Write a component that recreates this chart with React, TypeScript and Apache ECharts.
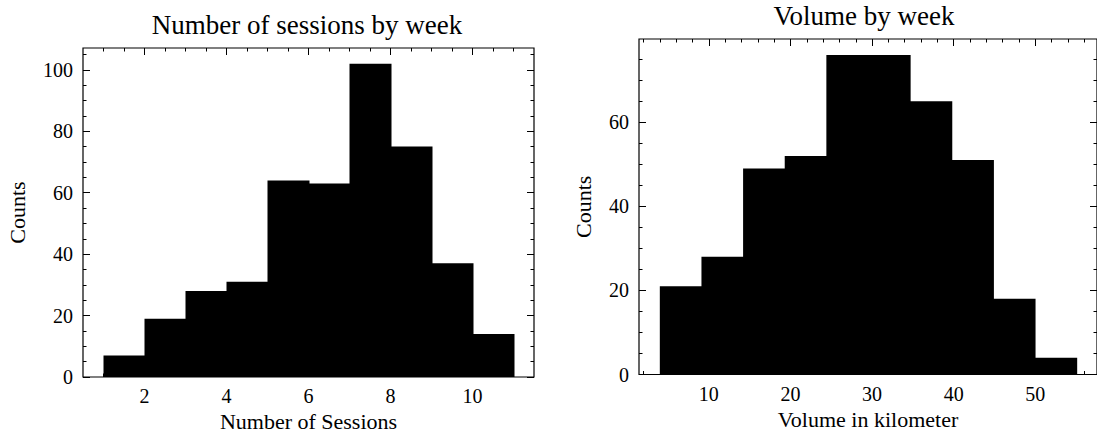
import React, { useEffect, useRef } from "react";
import * as echarts from "echarts";

// ---- data ----
const sessionEdges = [1, 2, 3, 4, 5, 6, 7, 8, 9, 10, 11];
const sessionCounts = [7, 19, 28, 31, 64, 63, 102, 75, 37, 14];

const volumeEdges = [4.0, 9.1, 14.2, 19.3, 24.4, 29.5, 34.6, 39.7, 44.8, 49.9, 55.0];
const volumeCounts = [21, 28, 49, 52, 76, 76, 65, 51, 18, 4];

// ---- ticks ----
const sessionMajorX = [2, 4, 6, 8, 10];
const sessionMinorX = [1, 1.5, 2.5, 3, 3.5, 4.5, 5, 5.5, 6.5, 7, 7.5, 8.5, 9, 9.5, 10.5, 11];
const sessionMajorY = [0, 20, 40, 60, 80, 100];
const sessionMinorY = [5, 10, 15, 25, 30, 35, 45, 50, 55, 65, 70, 75, 85, 90, 95, 105];

const volumeMajorX = [10, 20, 30, 40, 50];
const volumeMinorX = [2, 4, 6, 8, 12, 14, 16, 18, 22, 24, 26, 28, 32, 34, 36, 38, 42, 44, 46, 48, 52, 54, 56];
const volumeMajorY = [0, 20, 40, 60];
const volumeMinorY = [5, 10, 15, 25, 30, 35, 45, 50, 55, 65, 70, 75];

const FONT = "'Liberation Serif', 'Times New Roman', serif";
const INK = "#000";

function histData(edges: number[], counts: number[]) {
  return counts.map((c, i) => [edges[i], edges[i + 1], c]);
}

function xAxes(grid: number, min: number, max: number, major: number[], minor: number[], name: string) {
  const common = {
    type: "value" as const,
    gridIndex: grid,
    min,
    max,
    splitLine: { show: false },
    axisLine: { show: false, onZero: false },
  };
  return [
    {
      ...common,
      position: "bottom",
      name,
      nameLocation: "middle",
      nameGap: 32,
      nameTextStyle: { fontFamily: FONT, fontSize: 22, color: INK },
      axisTick: { show: true, inside: true, length: 7, customValues: major, lineStyle: { color: INK, width: 1 } },
      axisLabel: { show: true, customValues: major, margin: 9, fontFamily: FONT, fontSize: 20, color: INK },
    },
    {
      ...common,
      position: "bottom",
      axisTick: { show: true, inside: true, length: 3.5, customValues: minor, lineStyle: { color: INK, width: 1 } },
      axisLabel: { show: false },
    },
    {
      ...common,
      position: "top",
      axisTick: { show: true, inside: true, length: 7, customValues: major, lineStyle: { color: INK, width: 1 } },
      axisLabel: { show: false },
    },
    {
      ...common,
      position: "top",
      axisTick: { show: true, inside: true, length: 3.5, customValues: minor, lineStyle: { color: INK, width: 1 } },
      axisLabel: { show: false },
    },
  ];
}

function yAxes(grid: number, min: number, max: number, major: number[], minor: number[], name: string, gap: number) {
  const common = {
    type: "value" as const,
    gridIndex: grid,
    min,
    max,
    splitLine: { show: false },
    axisLine: { show: false, onZero: false },
  };
  return [
    {
      ...common,
      position: "left",
      name,
      nameLocation: "middle",
      nameRotate: 90,
      nameGap: gap,
      nameTextStyle: { fontFamily: FONT, fontSize: 22, color: INK },
      axisTick: { show: true, inside: true, length: 7, customValues: major, lineStyle: { color: INK, width: 1 } },
      axisLabel: { show: true, customValues: major, margin: 10, fontFamily: FONT, fontSize: 20, color: INK },
    },
    {
      ...common,
      position: "left",
      axisTick: { show: true, inside: true, length: 3.5, customValues: minor, lineStyle: { color: INK, width: 1 } },
      axisLabel: { show: false },
    },
    {
      ...common,
      position: "right",
      axisTick: { show: true, inside: true, length: 7, customValues: major, lineStyle: { color: INK, width: 1 } },
      axisLabel: { show: false },
    },
    {
      ...common,
      position: "right",
      axisTick: { show: true, inside: true, length: 3.5, customValues: minor, lineStyle: { color: INK, width: 1 } },
      axisLabel: { show: false },
    },
  ];
}

function renderBar(params: any, api: any) {
  const x0 = api.value(0);
  const x1 = api.value(1);
  const h = api.value(2);
  const p0 = api.coord([x0, h]);
  const p1 = api.coord([x1, 0]);
  // extend by 1px so that adjacent bars overlap and leave no anti-aliased seam
  return {
    type: "rect",
    shape: { x: p0[0], y: p0[1], width: p1[0] - p0[0] + 1, height: p1[1] - p0[1] },
    style: { fill: INK, stroke: null },
  };
}

export default function App() {
  const ref = useRef<HTMLDivElement>(null);

  useEffect(() => {
    if (!ref.current) return;
    const chart = echarts.init(ref.current, undefined, { renderer: "svg" });

    const sMaxY = Math.max(...sessionCounts) * 1.05;
    const vMaxY = Math.max(...volumeCounts) * 1.05;
    const sSpan = sessionEdges[sessionEdges.length - 1] - sessionEdges[0];
    const vSpan = volumeEdges[volumeEdges.length - 1] - volumeEdges[0];

    chart.setOption({
      animation: false,
      backgroundColor: "#fff",
      textStyle: { fontFamily: FONT },
      graphic: [
        {
          type: "text",
          x: 307,
          y: 25,
          style: {
            text: "Number of sessions by week",
            font: `27px ${FONT}`,
            fill: INK,
            textAlign: "center",
            textVerticalAlign: "middle",
          },
        },
        {
          type: "text",
          x: 864,
          y: 16,
          style: {
            text: "Volume by week",
            font: `27px ${FONT}`,
            fill: INK,
            textAlign: "center",
            textVerticalAlign: "middle",
          },
        },
      ],
      grid: [
        { left: 83, top: 48, width: 451, height: 329, show: true, borderColor: INK, borderWidth: 1.2, backgroundColor: "transparent" },
        { left: 639, top: 39, width: 459, height: 335.5, show: true, borderColor: INK, borderWidth: 1.2, backgroundColor: "transparent" },
      ],
      xAxis: [
        ...xAxes(0, sessionEdges[0] - 0.05 * sSpan, sessionEdges[sessionEdges.length - 1] + 0.05 * sSpan, sessionMajorX, sessionMinorX, "Number of Sessions"),
        ...xAxes(1, volumeEdges[0] - 0.05 * vSpan, volumeEdges[volumeEdges.length - 1] + 0.05 * vSpan, volumeMajorX, volumeMinorX, "Volume in kilometer"),
      ],
      yAxis: [
        ...yAxes(0, 0, sMaxY, sessionMajorY, sessionMinorY, "Counts", 55),
        ...yAxes(1, 0, vMaxY, volumeMajorY, volumeMinorY, "Counts", 45),
      ],
      series: [
        {
          type: "custom",
          xAxisIndex: 0,
          yAxisIndex: 0,
          renderItem: renderBar,
          encode: { x: [0, 1], y: 2 },
          data: histData(sessionEdges, sessionCounts),
        },
        {
          type: "custom",
          xAxisIndex: 4,
          yAxisIndex: 4,
          renderItem: renderBar,
          encode: { x: [0, 1], y: 2 },
          data: histData(volumeEdges, volumeCounts),
        },
      ],
    });

    return () => chart.dispose();
  }, []);

  return (
    <div
      ref={ref}
      style={{ position: "fixed", left: 0, top: 0, width: 1097, height: 439, background: "#fff" }}
    />
  );
}
